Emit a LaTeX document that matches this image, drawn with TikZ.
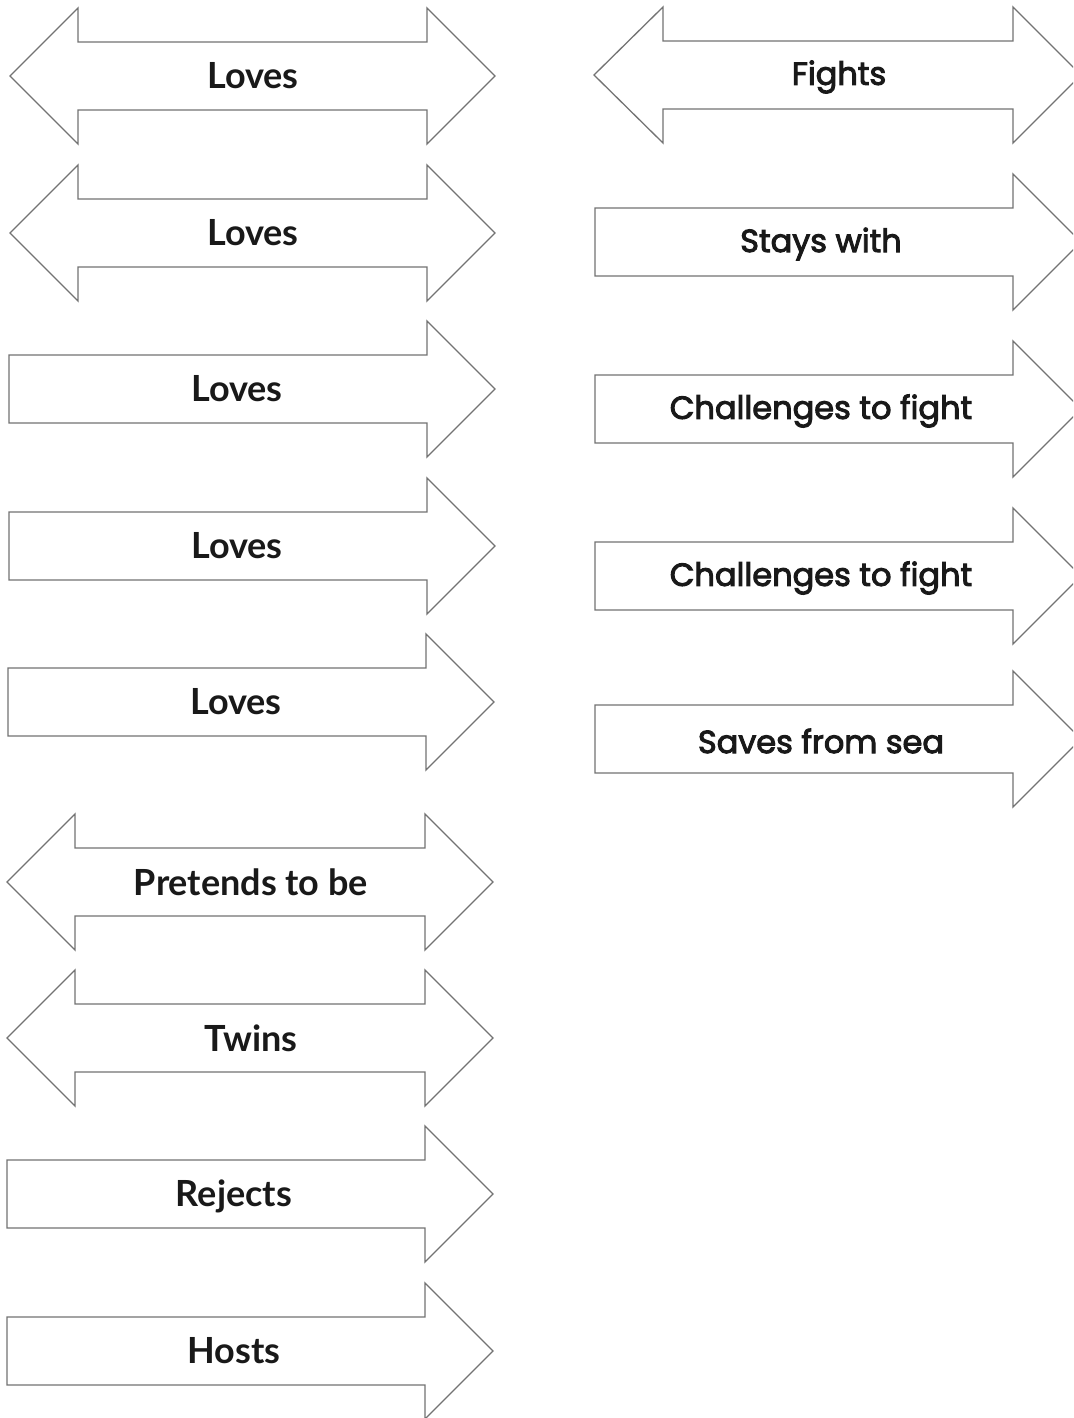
\documentclass[tikz,border=0pt]{standalone}
\usepackage{fontspec}
\setmainfont{Lato}
\newfontfamily\rfont{Poppins}[FakeBold=3]
\tikzset{
  arr/.style={draw=black!55, line width=1.3pt, fill=white, line join=miter},
  lbl/.style={font=\fontsize{36}{42}\selectfont\bfseries, text=black!90, inner sep=0pt},
  rlbl/.style={font=\rfont\fontsize{32}{38}\selectfont, text=black!90, inner sep=0pt},
}
% double arrow: #1 left tip, #2 left base, #3 right base, #4 right tip, #5 center y
\newcommand{\DArrow}[5]{%
  \draw[arr] (#1,#5) -- (#2,#5-68) -- (#2,#5-34) -- (#3,#5-34) -- (#3,#5-68) -- (#4,#5)
    -- (#3,#5+68) -- (#3,#5+34) -- (#2,#5+34) -- (#2,#5+68) -- cycle;}
% single right arrow: #1 left x, #2 head base, #3 tip, #4 center y
\newcommand{\RArrow}[4]{%
  \draw[arr] (#1,#4-34) -- (#2,#4-34) -- (#2,#4-68) -- (#3,#4) -- (#2,#4+68)
    -- (#2,#4+34) -- (#1,#4+34) -- cycle;}
\begin{document}
\begin{tikzpicture}[x=1pt,y=-1pt]
\useasboundingbox (0,0) rectangle (1073,1418);
\clip (0,0) rectangle (1073,1418);
\fill[white] (0,0) rectangle (1073,1418);
% left column
\DArrow{10}{78}{427}{495}{76}
\node[lbl] (l1) at (253,76) {Loves};
\DArrow{10}{78}{427}{495}{233}
\node[lbl] (l2) at (253,233) {Loves};
\RArrow{9}{427}{495}{389}
\node[lbl] (l3) at (237,389) {Loves};
\RArrow{9}{427}{495}{546}
\node[lbl] (l4) at (237,546) {Loves};
\RArrow{8}{426}{494}{702}
\node[lbl] (l5) at (236,702) {Loves};
\DArrow{7}{75}{425}{493}{882}
\node[lbl] (l6) at (251,882) {Pretends to be};
\DArrow{7}{75}{425}{493}{1038}
\node[lbl] (l7) at (251,1038) {Twins};
\RArrow{7}{425}{493}{1194}
\node[lbl] (l8) at (234,1196) {Rejects};
\RArrow{7}{425}{493}{1351}
\node[lbl] (l9) at (234,1351) {Hosts};
% right column
\DArrow{594}{663}{1013}{1081}{75}
\node[rlbl] (r1) at (839,77) {Fights};
\RArrow{595}{1013}{1081}{242}
\node[rlbl] (r2) at (821,244) {Stays with};
\RArrow{595}{1013}{1081}{409}
\node[rlbl] (r3) at (821,411) {Challenges to fight};
\RArrow{595}{1013}{1081}{576}
\node[rlbl] (r4) at (821,578) {Challenges to fight};
\RArrow{595}{1013}{1081}{739}
\node[rlbl] (r5) at (821,741) {Saves from sea};
\end{tikzpicture}
\end{document}
